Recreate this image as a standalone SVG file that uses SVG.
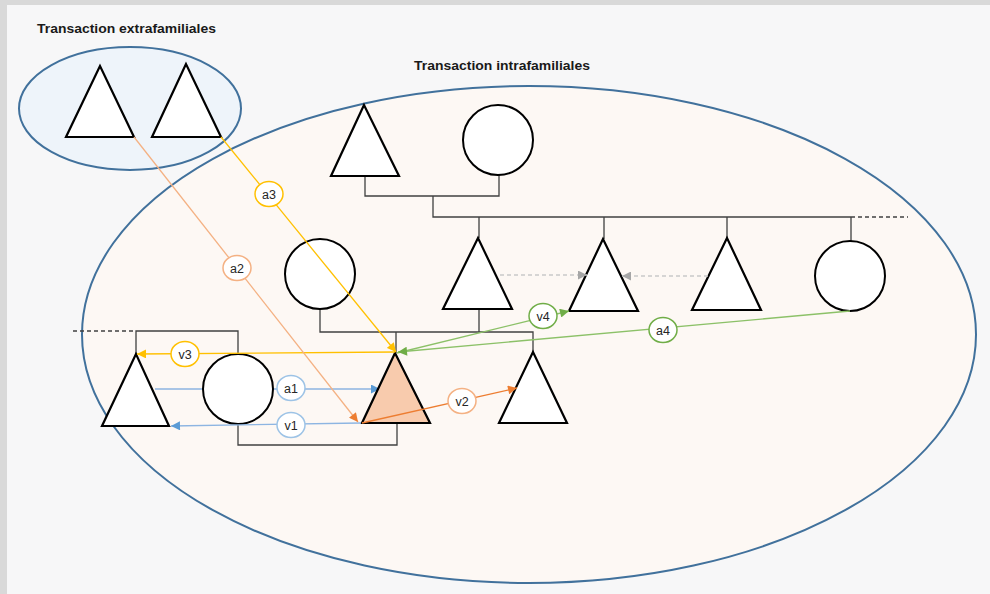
<svg xmlns="http://www.w3.org/2000/svg" width="990" height="594" viewBox="0 0 990 594">
<style>
.tri{fill:#fff;stroke:#000;stroke-width:2.2;stroke-linejoin:miter}
.cir{fill:#fff;stroke:#000;stroke-width:2}
.fam{fill:none;stroke:#404040;stroke-width:1.3}
.famd{fill:none;stroke:#404040;stroke-width:1.3;stroke-dasharray:4 3}
.title{font-family:"Liberation Sans",Arial,sans-serif;font-weight:bold;font-size:13.5px;fill:#1a1a1a}
.lbl{font-family:"Liberation Sans",Arial,sans-serif;font-size:12.5px;fill:#262626;text-anchor:middle}
.lb{fill:#fff;stroke-width:1.5}
.c{fill:none;stroke-width:1.3}
</style>
<defs>
<marker id="mBlue" viewBox="0 0 10 10" refX="10" refY="5" markerWidth="11" markerHeight="9" markerUnits="userSpaceOnUse" orient="auto"><path d="M0,0 L10,5 L0,10 z" fill="#5b9bd5"/></marker>
<marker id="mYel" viewBox="0 0 10 10" refX="10" refY="5" markerWidth="11" markerHeight="9" markerUnits="userSpaceOnUse" orient="auto"><path d="M0,0 L10,5 L0,10 z" fill="#ffc000"/></marker>
<marker id="mOr" viewBox="0 0 10 10" refX="10" refY="5" markerWidth="11" markerHeight="9" markerUnits="userSpaceOnUse" orient="auto"><path d="M0,0 L10,5 L0,10 z" fill="#ed7d31"/></marker>
<marker id="mGr" viewBox="0 0 10 10" refX="10" refY="5" markerWidth="11" markerHeight="9" markerUnits="userSpaceOnUse" orient="auto"><path d="M0,0 L10,5 L0,10 z" fill="#70ad47"/></marker>
<marker id="mGy" viewBox="0 0 10 10" refX="10" refY="5" markerWidth="10" markerHeight="9" markerUnits="userSpaceOnUse" orient="auto"><path d="M0,0 L10,5 L0,10 z" fill="#a6a6a6"/></marker>
</defs>
<rect x="0" y="0" width="990" height="594" fill="#d9d9d9"/>
<rect x="7" y="5" width="983" height="589" fill="#f7f7f8"/>
<g id="zone-intra">
<ellipse cx="529" cy="334.5" rx="447" ry="248.5" fill="#fdf8f4" stroke="#41719c" stroke-width="2"/>
<text class="title" x="414" y="70" textLength="176" lengthAdjust="spacingAndGlyphs">Transaction intrafamiliales</text>
</g>
<g id="zone-extra">
<ellipse cx="130" cy="108.5" rx="111" ry="61.5" fill="#eef4fa" stroke="#41719c" stroke-width="2"/>
<text class="title" x="37" y="33" textLength="179" lengthAdjust="spacingAndGlyphs">Transaction extrafamiliales</text>
</g>
<g id="family-lines">
<path class="fam" d="M365,176 V196 H499 V175"/>
<path class="fam" d="M433,196 V217 H851"/>
<path class="famd" d="M851,217 H908"/>
<path class="fam" d="M479,217 V238 M604,217 V239 M727,217 V238 M851,217 V241"/>
<path class="fam" d="M479,309 V332 M320,309 V332 H533 V352 M396,332 V353"/>
<path class="fam" d="M136,354 V331 H238 V354"/>
<path class="famd" d="M73,331 H136"/>
<path class="fam" d="M238,424 V445 H397 V423"/>
</g>
<g id="connectors-under">
<path class="c" stroke="#8db5e2" d="M155,389 L380,389" marker-end="url(#mBlue)"/>
</g>
<g id="ext1"><polygon class="tri" points="100,66 66,137 134,137"/></g>
<g id="ext2"><polygon class="tri" points="186,64 152,137 221,137"/></g>
<g id="grandfather"><polygon class="tri" points="364,105 331,176 399,176"/></g>
<g id="grandmother"><circle class="cir" cx="498" cy="140" r="35"/></g>
<g id="child1"><polygon class="tri" points="478,238 443,309 512,309"/></g>
<g id="child2"><polygon class="tri" points="603,239 569,311 638,311"/></g>
<g id="child3"><polygon class="tri" points="727,238 692,310 761,310"/></g>
<g id="child4"><circle class="cir" cx="850" cy="276" r="35"/></g>
<g id="spouse1"><circle class="cir" cx="320" cy="274" r="35"/></g>
<g id="ego"><polygon class="tri" points="395,353 362,423 430,423" style="fill:#f8cbad"/></g>
<g id="sibling"><polygon class="tri" points="533,352 499,423 567,423"/></g>
<g id="left-man"><polygon class="tri" points="136,354 102,426 169,426"/></g>
<g id="left-woman"><circle class="cir" cx="238" cy="389" r="35"/></g>
<g id="connectors">
<path class="c" stroke="#c9c9c9" stroke-dasharray="4 3" d="M500,275 L587,275" marker-end="url(#mGy)"/>
<path class="c" stroke="#c9c9c9" stroke-dasharray="4 3" d="M708,276 L622,276" marker-end="url(#mGy)"/>
<path class="c" stroke="#8db5e2" d="M361,423 L171,426" marker-end="url(#mBlue)"/>
<path class="c" stroke="#ffc000" d="M395,352 L137,354" marker-end="url(#mYel)"/>
<path class="c" stroke="#ffc000" d="M221,137 L396,352" marker-end="url(#mYel)"/>
<path class="c" stroke="#f4b183" d="M134,137 L358,422" marker-end="url(#mOr)"/>
<path class="c" stroke="#ed7d31" d="M362,423 L517,388" marker-end="url(#mOr)"/>
<path class="c" stroke="#8cc168" d="M397,353 L569,311" marker-end="url(#mGr)"/>
<path class="c" stroke="#8cc168" d="M850,311 L398,352" marker-end="url(#mGr)"/>
</g>
<g id="labels">
<g id="lbl-a1"><ellipse class="lb" stroke="#9dc3e6" cx="291" cy="388" rx="14" ry="12.5"/><text class="lbl" x="291" y="392.5">a1</text></g>
<g id="lbl-v1"><ellipse class="lb" stroke="#9dc3e6" cx="291" cy="425" rx="14" ry="12.5"/><text class="lbl" x="291" y="429.5">v1</text></g>
<g id="lbl-v3"><ellipse class="lb" stroke="#ffc000" cx="185" cy="354" rx="14" ry="12.5"/><text class="lbl" x="185" y="358.5">v3</text></g>
<g id="lbl-a3"><ellipse class="lb" stroke="#ffc000" cx="269" cy="194" rx="14" ry="12.5"/><text class="lbl" x="269" y="198.5">a3</text></g>
<g id="lbl-a2"><ellipse class="lb" stroke="#f4b183" cx="237" cy="268" rx="14" ry="12.5"/><text class="lbl" x="237" y="272.5">a2</text></g>
<g id="lbl-v2"><ellipse class="lb" stroke="#f4b183" cx="462" cy="401" rx="14" ry="12.5"/><text class="lbl" x="462" y="405.5">v2</text></g>
<g id="lbl-v4"><ellipse class="lb" stroke="#70ad47" stroke-width="2" cx="543" cy="316" rx="14" ry="12.5"/><text class="lbl" x="543" y="320.5">v4</text></g>
<g id="lbl-a4"><ellipse class="lb" stroke="#70ad47" stroke-width="2" cx="663" cy="330" rx="14" ry="12.5"/><text class="lbl" x="663" y="334.5">a4</text></g>
</g>
</svg>
